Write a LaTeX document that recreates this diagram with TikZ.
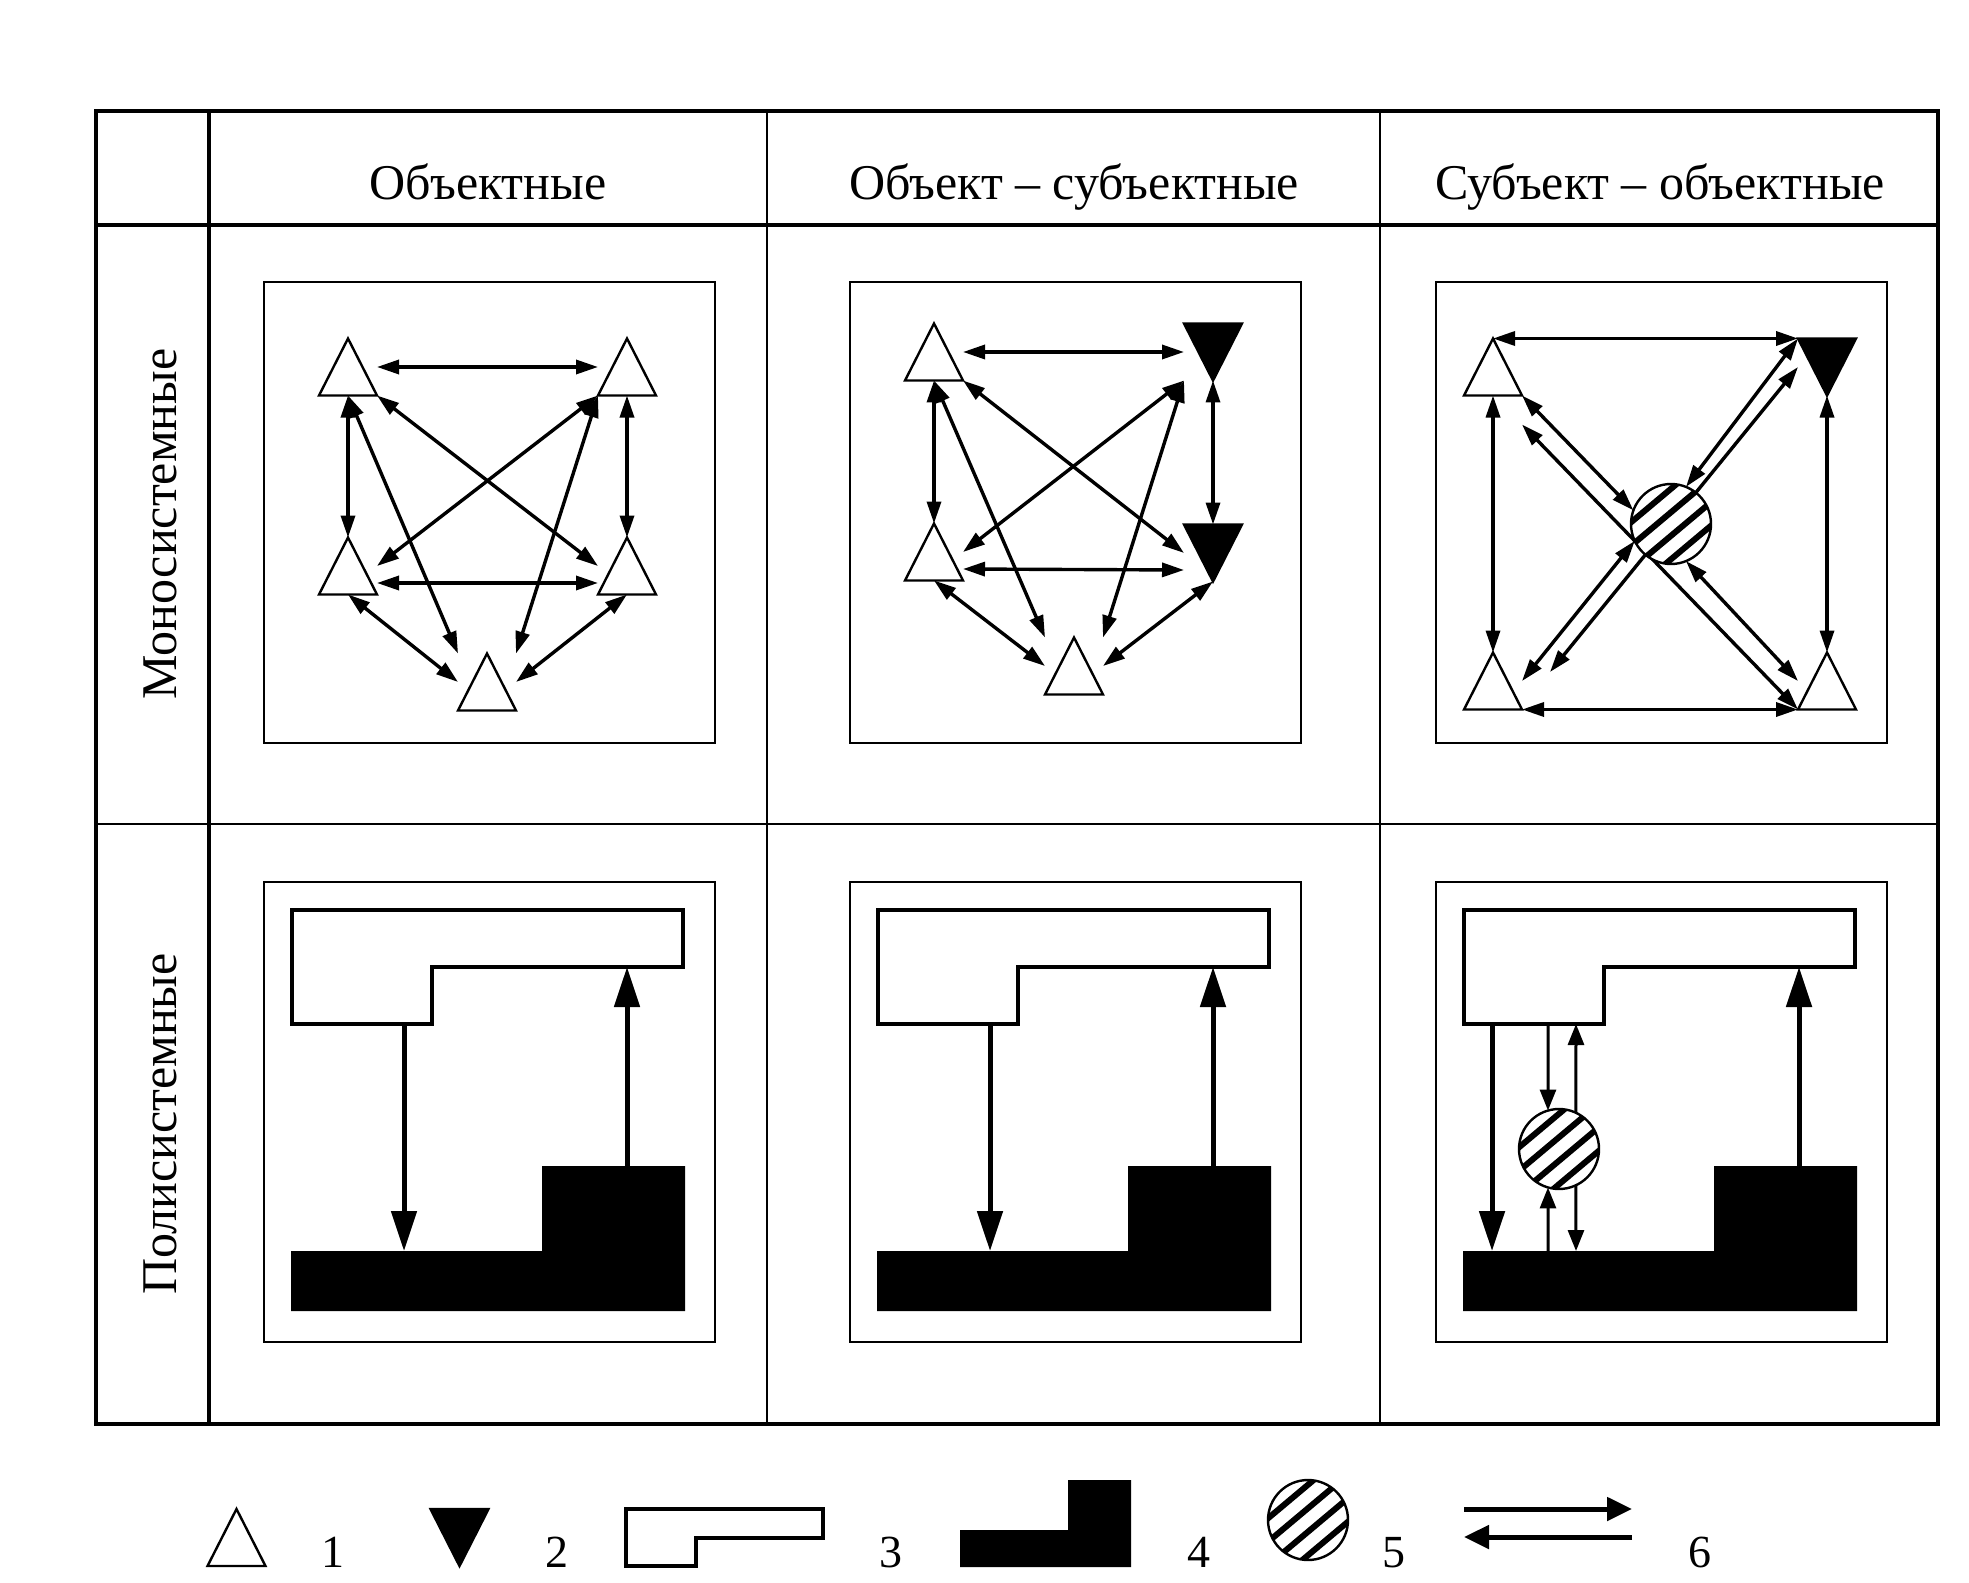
\documentclass[tikz,border=0pt]{standalone}
\usepackage{fontspec}
\setmainfont{Liberation Serif}
\usepackage{tikz}
\usetikzlibrary{arrows.meta,calc,backgrounds}
\tikzstyle{spot}=[rectangle, minimum width=29pt, minimum height=28.5pt, inner sep=0pt, outer sep=0pt]
\tikzstyle{tri}=[draw=black, line width=1.2pt, fill=white]
\tikzstyle{ball}=[circle, draw=black, line width=1.2pt, fill=white, minimum size=40pt, inner sep=0pt, outer sep=0pt,
  path picture={\foreach \k in {-22.5pt,-13.5pt,-4.5pt,4.5pt,13.5pt,22.5pt}
    \draw[line width=3pt] ($(path picture bounding box.center)+(130:\k)+(40:30pt)$)
      -- ($(path picture bounding box.center)+(130:\k)+(220:30pt)$);}]
\tikzstyle{arr}=[line width=1.7pt, >={Triangle[length=11pt,width=7pt]}, <->]
\tikzstyle{bigarr}=[line width=2.5pt, >={Triangle[length=20pt,width=12.5pt]}, ->]
\tikzstyle{smallarr}=[line width=1.5pt, >={Triangle[length=10.5pt,width=8pt]}, ->]
\tikzstyle{keyarr}=[line width=2.5pt, >={Triangle[length=12.5pt,width=11.5pt]}, ->]
\tikzstyle{headtext}=[anchor=base, inner sep=0pt, font=\fontsize{25}{30}\selectfont]
\tikzstyle{numtext}=[anchor=base, inner sep=0pt, font=\fontsize{23}{28}\selectfont]
\tikzstyle{cellbox}=[line width=1.4pt]
\tikzstyle{lightshape}=[draw=black, line width=1.6pt, fill=white]

\begin{document}
\begin{tikzpicture}[x=0.5pt, y=-0.5pt]
\useasboundingbox (0,0) rectangle (1969,1583);
% table
\draw[line width=2pt] (96,111) rectangle (1938,1424);
\draw[line width=1.75pt] (96,225) -- (1938,225) (209,111) -- (209,1424);
\draw[line width=1pt] (767,111) -- (767,1424) (1380,111) -- (1380,1424) (96,824) -- (1938,824);
\node[headtext] (h1) at (488,200) {Объектные};
\node[headtext] (h2) at (1074,200) {Объект – субъектные};
\node[headtext] (h3) at (1660,200) {Субъект – объектные};
\node[headtext, rotate=90] (r1) at (176,524) {Моносистемные};
\node[headtext, rotate=90] (r2) at (176,1124) {Полисистемные};
\foreach \x in {264,850,1436}
  \draw[cellbox] (\x,282) rectangle ++(451,461) (\x,882) rectangle ++(451,460);

% monosystem cells
\node[spot] (a1) at (348,367) {};
\node[spot] (a2) at (627,367) {};
\node[spot] (a3) at (348,566) {};
\node[spot] (a4) at (627,566) {};
\node[spot] (a5) at (487,682) {};
\node[spot] (b1) at (934,352) {};
\node[spot] (b2) at (1213,352) {};
\node[spot] (b3) at (934,552) {};
\node[spot] (b4) at (1213,553) {};
\node[spot] (b5) at (1074,666) {};
\node[spot] (c1) at (1493,367) {};
\node[spot] (c2) at (1827,367) {};
\node[spot] (c3) at (1493,681) {};
\node[spot] (c4) at (1827,681) {};
\node[spot] (l1) at (236.5,1537.5) {};
\node[spot] (l2) at (459.5,1537.5) {};
\foreach \n in {a1,a2,a3,a4,a5,b1,b3,b5,c1,c3,c4,l1}
  \draw[tri] (\n.south west) -- (\n.north) -- (\n.south east) -- cycle;
\foreach \n in {b2,b4,c2,l2}
  \draw[tri, fill=black] (\n.north west) -- (\n.south) -- (\n.north east) -- cycle;
\node[ball] (m1) at (1671,524) {};

\foreach \s in {a,b} {
  \draw[arr] (\s1.east) -- (\s2.west);
  \draw[arr] (\s1.south) -- (\s3.north);
  \draw[arr] (\s2.south) -- (\s4.north);
  \draw[arr] ($(\s3.east)+(0,17)$) -- ($(\s4.west)+(0,17)$);
  \draw[arr] (\s1.south east) -- (\s4.west);
  \draw[arr] (\s2.south west) -- (\s3.east);
  \draw[arr] (\s1.south) -- (\s5.north west);
  \draw[arr] (\s2.south west) -- (\s5.north east);
  \draw[arr] (\s3.south) -- (\s5.west);
  \draw[arr] (\s4.south) -- (\s5.east);
}
\begin{scope}[on background layer]
  \draw[arr] (c1.north) -- (c2.north west);
  \draw[arr] (c3.south east) -- (c4.south west);
  \draw[arr] (c1.south) -- (c3.north);
  \draw[arr] (c2.south) -- (c4.north);
  \draw[arr] (c1.south east) -- (m1.160);
  \draw[arr] (m1.-68) -- (c4.west);
  \draw[arr] (m1.68) -- (c2.north west);
  \draw[arr] (m1.205) -- (c3.east);
  \draw[arr] ($(c1.south east)+(0,29)$) -- (c4.south west);
  \draw[arr] (c2.west) -- ($(c3.east)+(28,-9)$);
\end{scope}

% polysystem cells
\foreach \x in {264,850,1436} {
  \draw[lightshape] (\x+28,910) -- (\x+419,910) -- (\x+419,967) -- (\x+168,967) -- (\x+168,1024) -- (\x+28,1024) -- cycle;
  \fill (\x+27,1251) -- (\x+27,1311) -- (\x+421,1311) -- (\x+421,1166) -- (\x+278,1166) -- (\x+278,1251) -- cycle;
}
\foreach \x/\n in {264/1,850/2} {
  \coordinate (p\n) at (\x+140,1024);
  \coordinate (q\n) at (\x+140,1251);
  \coordinate (s\n) at (\x+363,1166);
  \coordinate (t\n) at (\x+363,967);
  \draw[bigarr] (p\n) -- (q\n);
  \draw[bigarr] (s\n) -- (t\n);
}
\coordinate (p3) at (1492,1024);
\coordinate (q3) at (1492,1251);
\coordinate (s3) at (1799,1166);
\coordinate (t3) at (1799,967);
\draw[bigarr] (p3) -- (q3);
\draw[bigarr] (s3) -- (t3);
\node[ball] (m2) at (1559,1149) {};
\coordinate (e1) at (1548,1024);
\coordinate (e2) at (1576,1024);
\coordinate (f1) at (1548,1251);
\coordinate (f2) at (1576,1251);
\draw[smallarr] (e1) -- (m2.106);
\draw[smallarr] (m2.65) -- (e2);
\draw[smallarr] (f1) -- (m2.254);
\draw[smallarr] (m2.295) -- (f2);

% legend
\draw[lightshape] (626,1509) -- (823,1509) -- (823,1538) -- (696,1538) -- (696,1566) -- (626,1566) -- cycle;
\fill (960,1530) -- (960,1567) -- (1131,1567) -- (1131,1480) -- (1068,1480) -- (1068,1530) -- cycle;
\node[ball] (m3) at (1308,1520) {};
\coordinate (k1) at (1464,1509);
\coordinate (k2) at (1632,1509);
\coordinate (k3) at (1632,1537);
\coordinate (k4) at (1464,1537);
\draw[keyarr] (k1) -- (k2);
\draw[keyarr] (k3) -- (k4);
\node[numtext] (n1) at (333,1567) {1};
\node[numtext] (n2) at (557,1567) {2};
\node[numtext] (n3) at (891,1567) {3};
\node[numtext] (n4) at (1199,1567) {4};
\node[numtext] (n5) at (1394,1567) {5};
\node[numtext] (n6) at (1700,1567) {6};
\end{tikzpicture}
\end{document}
